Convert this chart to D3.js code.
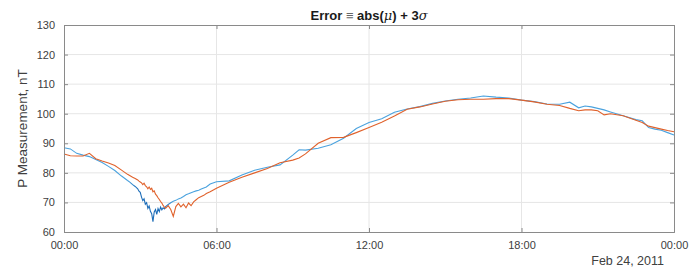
<!DOCTYPE html>
<html>
<head>
<meta charset="utf-8">
<script src="https://cdn.jsdelivr.net/npm/d3@7"></script>
<style>
  body { margin: 0; background: #fff; }
  text { font-family: "Liberation Sans", Arial, sans-serif; }
</style>
</head>
<body>
<svg id="chart" width="693" height="271"></svg>
<script>
// hours since 00:00 on Feb 24, 2011
const hours = [
  0, 0.25, 0.5, 0.75, 1.0, 1.25, 1.5, 1.75, 2.0, 2.25,
  2.5, 2.6, 2.7, 2.8,
  2.9, 2.95, 3.0, 3.05, 3.1, 3.15, 3.2, 3.25, 3.3, 3.35, 3.4, 3.45,
  3.5, 3.55, 3.6, 3.65, 3.7, 3.75, 3.8, 3.85, 3.9, 3.95,
  4.0, 4.1, 4.2, 4.3, 4.4, 4.5, 4.6, 4.7, 4.8, 4.9,
  5.0, 5.1, 5.2, 5.3, 5.4, 5.5, 5.6,
  5.75, 6.0, 6.5, 7.0, 7.5, 8.0, 8.5, 9.0, 9.25, 9.5,
  10.0, 10.5, 11.0, 11.5, 12.0, 12.5, 13.0, 13.5, 14.0, 14.5, 15.0, 15.5,
  16.0, 16.5, 17.0, 17.5, 18.0, 18.5, 19.0, 19.5, 19.9, 20.25, 20.5, 20.75,
  21.0, 21.25, 21.5, 22.0, 22.5, 22.75, 23.0, 23.25, 23.5, 23.75, 24.0
]

// blue series
const blueVals = [
  88.5, 88.1, 86.6, 86.0, 85.5, 84.5, 83.5, 82.2, 80.8, 79.0,
  77.4, 76.8, 76.0, 75.4,
  74.6, 73.8, 73.4, 71.8, 70.6, 71.2, 69.4, 69.9, 68.0, 68.8, 67.0, 66.2,
  63.5, 66.8, 67.6, 66.0, 67.9, 66.9, 68.4, 67.5, 68.2, 67.8,
  68.6, 69.3, 69.9, 70.4, 70.7, 71.2, 71.5, 72.0, 72.6, 72.9,
  73.3, 73.6, 73.9, 74.1, 74.5, 74.9, 75.2,
  76.2, 77.0, 77.3, 79.3, 80.9, 81.9, 82.7, 86.0, 87.8, 87.7,
  88.3, 89.5, 91.7, 95.0, 97.0, 98.3, 100.5, 101.6, 102.4, 103.5, 104.3, 104.9,
  105.3, 106.0, 105.6, 105.3, 104.6, 104.1, 103.3, 103.2, 103.9, 102.0, 102.6, 102.3,
  101.8, 101.3, 100.6, 99.3, 98.0, 97.6, 95.3, 94.8, 94.4, 93.6, 92.8
]

// orange series
const orangeVals = [
  86.4, 85.8, 85.7, 85.7, 86.6, 84.8, 84.0, 83.3, 82.5, 81.0,
  79.5, 79.0, 78.5, 78.1,
  77.6, 77.2, 76.9, 76.6, 76.0, 76.5, 75.7, 75.3, 74.6, 75.2, 74.4, 74.8,
  73.6, 73.9, 72.8, 72.3, 71.6, 71.0, 70.3, 69.8, 69.0, 68.4,
  68.0, 68.9, 67.6, 65.3, 68.6, 69.7, 68.5, 69.4, 68.2, 69.8,
  68.9, 70.2, 70.9, 71.6, 72.0, 72.4, 73.0,
  73.6, 74.8, 76.8, 78.5, 80.0, 81.5, 83.4, 84.3, 85.0, 86.4,
  90.0, 91.9, 92.0, 93.6, 95.3, 97.1, 99.2, 101.5, 102.3, 103.3, 104.2, 104.7,
  104.9, 104.9, 105.1, 105.1, 104.6, 104.0, 103.2, 102.8, 101.8, 101.0, 101.3, 101.3,
  101.0, 99.6, 100.0, 99.3, 97.8, 97.0, 95.8, 95.3, 94.8, 94.3, 93.9
]

const xTicks = [0, 6, 12, 18, 24]
const xTickLabels = ["00:00", "06:00", "12:00", "18:00", "00:00"]
const yTicks = [60, 70, 80, 90, 100, 110, 120, 130]
const dateLabel = "Feb 24, 2011"
const yLabel = "P Measurement, nT"

const margin = { left: 64, right: 19, top: 25, bottom: 39 }
const W = 693, H = 271
const w = W - margin.left - margin.right
const h = H - margin.top - margin.bottom

const svg = d3.select("#chart")
const g = svg.append("g").attr("transform", `translate(${margin.left},${margin.top})`)

const x = d3.scaleLinear().domain([0, 24]).range([0, w])
const y = d3.scaleLinear().domain([60, 130]).range([h, 0])

// blue looks darker where it is noisy in the dip
const grad = svg.append("defs").append("linearGradient")
  .attr("id", "blueGrad")
  .attr("gradientUnits", "userSpaceOnUse")
  .attr("x1", x(0)).attr("x2", x(24)).attr("y1", 0).attr("y2", 0)
;[[0, "#4aa2de"], [2.5, "#4aa2de"], [2.9, "#1d6db8"], [3.95, "#1d6db8"], [4.3, "#4aa2de"], [24, "#4aa2de"]]
  .forEach(s => grad.append("stop").attr("offset", s[0] / 24).attr("stop-color", s[1]))

// grid
g.append("g")
  .selectAll("line")
  .data(xTicks.slice(1, -1))
  .enter().append("line")
  .attr("x1", d => x(d)).attr("x2", d => x(d))
  .attr("y1", 0).attr("y2", h)
  .attr("stroke", "#e6e6e6").attr("stroke-width", 1)

g.append("g")
  .selectAll("line")
  .data(yTicks.slice(1, -1))
  .enter().append("line")
  .attr("x1", 0).attr("x2", w)
  .attr("y1", d => y(d)).attr("y2", d => y(d))
  .attr("stroke", "#e6e6e6").attr("stroke-width", 1)

// lines
const line = d3.line()
  .x((d, i) => x(hours[i]))
  .y(d => y(d))

g.append("path")
  .datum(blueVals)
  .attr("d", line)
  .attr("fill", "none")
  .attr("stroke", "url(#blueGrad)")
  .attr("stroke-width", 1.1)

g.append("path")
  .datum(orangeVals)
  .attr("d", line)
  .attr("fill", "none")
  .attr("stroke", "#e0622c")
  .attr("stroke-width", 1.1)

// axes (ticks inside)
const axColor = "#8a8a8a"
const labColor = "#404040"

const xAxis = g.append("g")
  .attr("transform", `translate(0,${h})`)
  .call(d3.axisBottom(x).tickValues(xTicks).tickSize(-4).tickPadding(9)
    .tickFormat((d, i) => xTickLabels[i]))

const xAxisTop = g.append("g")
  .call(d3.axisTop(x).tickValues(xTicks).tickSize(-4).tickFormat(""))

const yAxis = g.append("g")
  .call(d3.axisLeft(y).tickValues(yTicks).tickSize(-4).tickPadding(9))

const yAxisRight = g.append("g")
  .attr("transform", `translate(${w},0)`)
  .call(d3.axisRight(y).tickValues(yTicks).tickSize(-4).tickFormat(""))

;[xAxis, xAxisTop, yAxis, yAxisRight].forEach(a => {
  a.select(".domain").attr("stroke", axColor).attr("stroke-width", 1)
  a.selectAll(".tick line").attr("stroke", axColor)
  a.selectAll(".tick text")
    .attr("fill", labColor)
    .style("font-size", "11px")
    .style("font-family", "'Liberation Sans', Arial, sans-serif")
})

// date label under the x axis
g.append("text")
  .attr("x", w - 10)
  .attr("y", h + 33)
  .attr("text-anchor", "end")
  .attr("fill", labColor)
  .style("font-size", "12.5px")
  .text(dateLabel)

// y label
svg.append("text")
  .attr("transform", `translate(27,${margin.top + h / 2}) rotate(-90)`)
  .attr("text-anchor", "middle")
  .attr("fill", labColor)
  .style("font-size", "13.5px")
  .text(yLabel)

// title
const title = svg.append("text")
  .attr("x", margin.left + w / 2)
  .attr("y", 20)
  .attr("text-anchor", "middle")
  .attr("fill", "#1a1a1a")
  .style("font-size", "13px")
  .style("font-weight", "bold")

title.append("tspan").text("Error ")
title.append("tspan").attr("fill", "#666").style("font-weight", "normal").text("\u2261")
title.append("tspan").text(" abs(")
title.append("tspan").style("font-style", "italic").style("font-weight", "normal")
  .style("font-family", "'DejaVu Serif', serif").text("\u03bc")
title.append("tspan").text(") + 3")
title.append("tspan").style("font-style", "italic").style("font-weight", "normal")
  .style("font-family", "'DejaVu Serif', serif").text("\u03c3")
</script>
</body>
</html>
